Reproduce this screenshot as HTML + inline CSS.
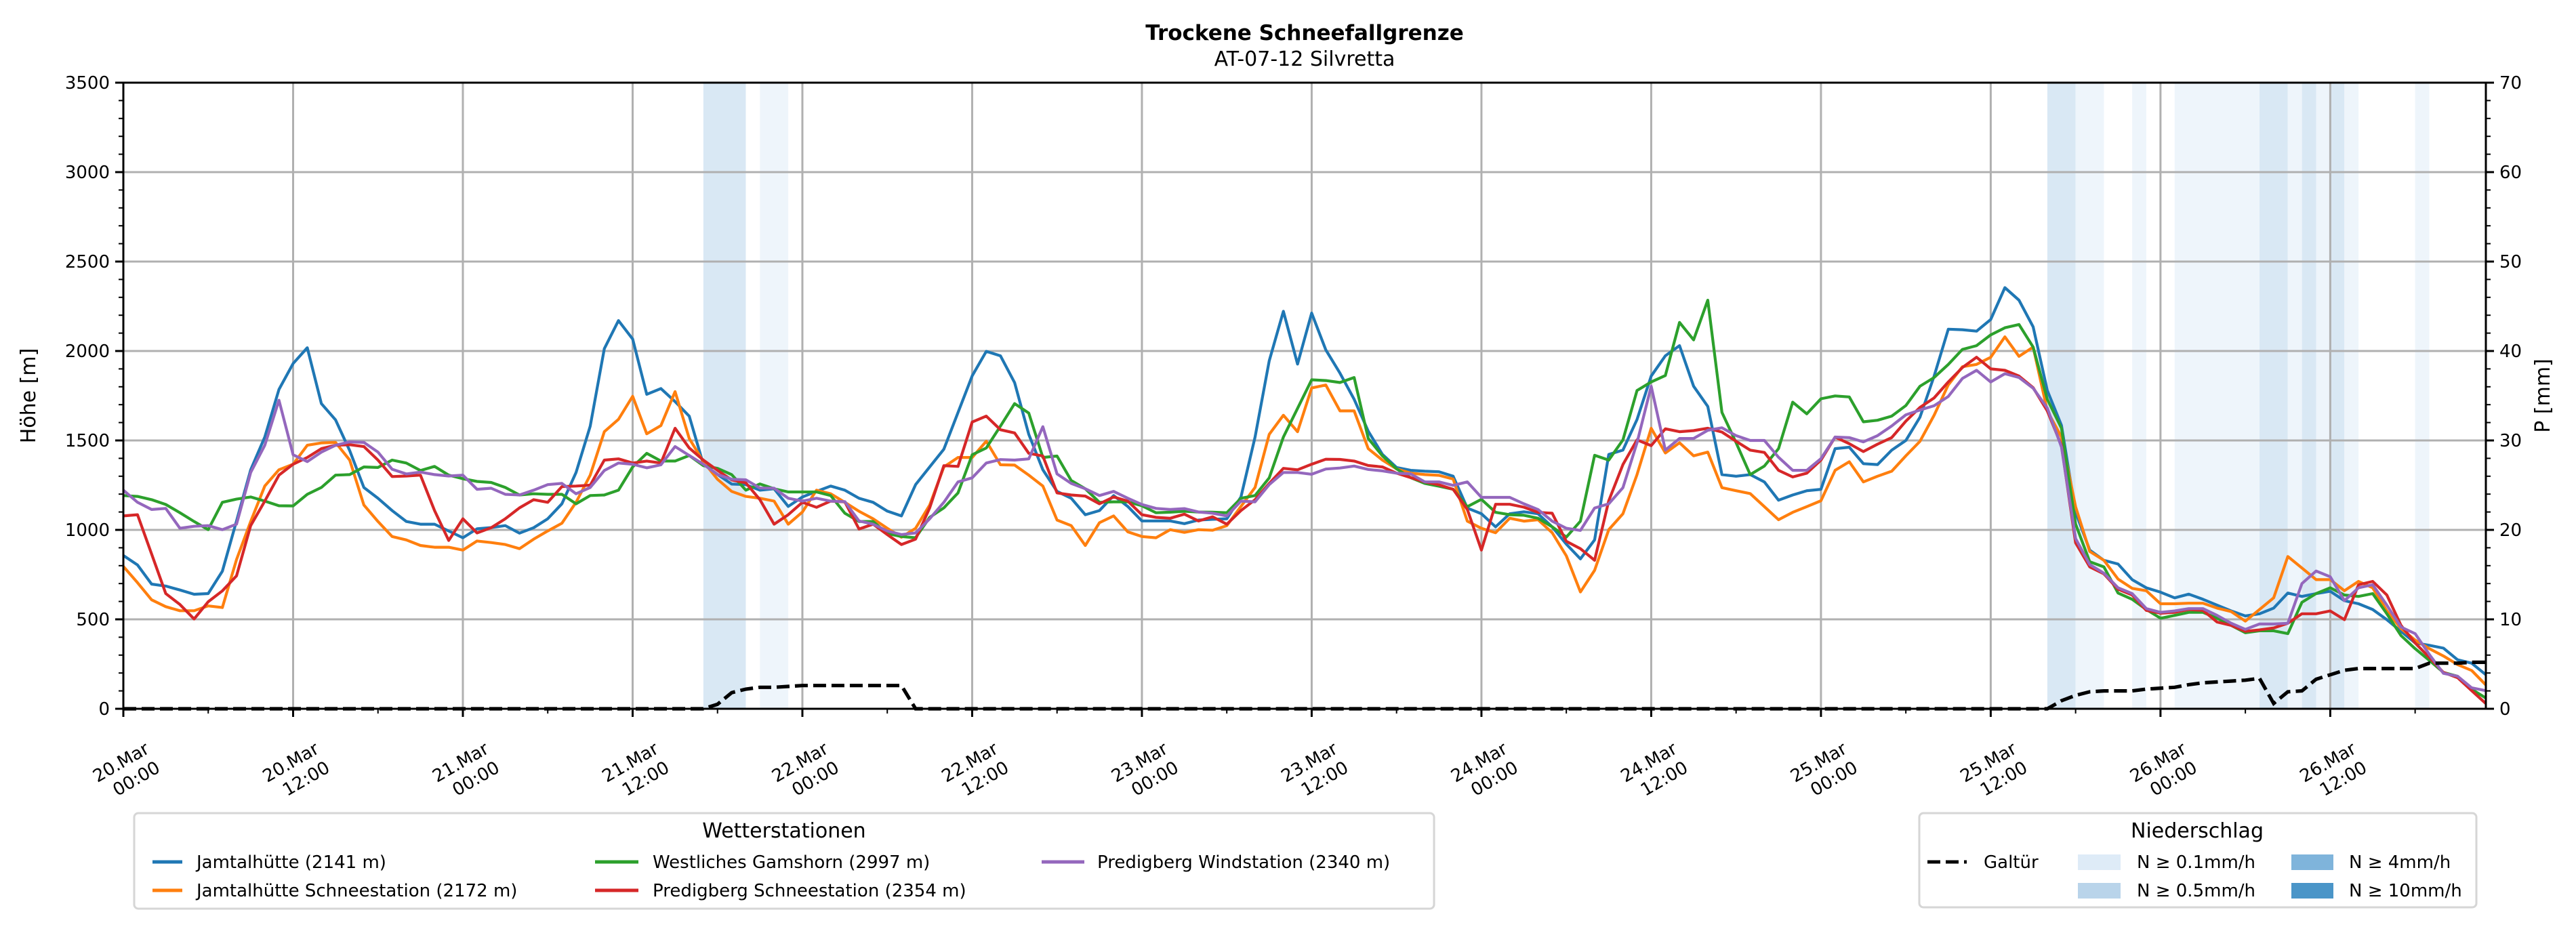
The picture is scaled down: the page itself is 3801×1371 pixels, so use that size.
<!DOCTYPE html>
<html><head><meta charset="utf-8"><style>
html,body{margin:0;padding:0;background:#fff;}
svg{display:block;font-family:"DejaVu Sans","Liberation Sans",sans-serif;}
</style></head><body>
<svg id="chart" width="3801" height="1371" viewBox="0 0 3801 1371" xmlns="http://www.w3.org/2000/svg">
<rect width="3801" height="1371" fill="#fff"/>
<text x="1925" y="59" text-anchor="middle" font-size="31" font-weight="bold">Trockene Schneefallgrenze</text>
<text x="1925" y="97" text-anchor="middle" font-size="30">AT-07-12 Silvretta</text>
<g id="bands"></g>
<g id="grid"></g>
<g id="series"></g>
<g id="axes"></g>
<text transform="translate(52,584) rotate(-90)" text-anchor="middle" font-size="30">Höhe [m]</text>
<text transform="translate(3762,584) rotate(-90)" text-anchor="middle" font-size="30">P [mm]</text>
<g>
<rect x="198" y="1200" width="1918" height="141" rx="6" fill="#fff" stroke="#d6d6d6" stroke-width="3"/>
<text x="1157" y="1236" text-anchor="middle" font-size="30">Wetterstationen</text>
<g><line x1="225" y1="1272" x2="269" y2="1272" stroke="#1f77b4" stroke-width="5"/><text x="290" y="1281" font-size="26">Jamtalhütte (2141 m)</text></g>
<g><line x1="225" y1="1314" x2="269" y2="1314" stroke="#ff7f0e" stroke-width="5"/><text x="290" y="1323" font-size="26">Jamtalhütte Schneestation (2172 m)</text></g>
<g><line x1="878" y1="1272" x2="942" y2="1272" stroke="#2ca02c" stroke-width="5"/><text x="963" y="1281" font-size="26">Westliches Gamshorn (2997 m)</text></g>
<g><line x1="878" y1="1314" x2="942" y2="1314" stroke="#d62728" stroke-width="5"/><text x="963" y="1323" font-size="26">Predigberg Schneestation (2354 m)</text></g>
<g><line x1="1537" y1="1272" x2="1600" y2="1272" stroke="#9467bd" stroke-width="5"/><text x="1619" y="1281" font-size="26">Predigberg Windstation (2340 m)</text></g>
</g>
<g>
<rect x="2832" y="1200" width="822" height="139" rx="6" fill="#fff" stroke="#d6d6d6" stroke-width="3"/>
<text x="3242" y="1236" text-anchor="middle" font-size="30">Niederschlag</text>
<g><line x1="2844" y1="1272" x2="2902" y2="1272" stroke="#000" stroke-width="5" stroke-dasharray="19,8"/><text x="2927" y="1281" font-size="26">Galtür</text></g>
<g><rect x="3066" y="1261" width="63" height="23" fill="#deebf7"/><text x="3153" y="1281" font-size="26">N ≥ 0.1mm/h</text></g>
<g><rect x="3066" y="1303" width="63" height="23" fill="#b9d4ea"/><text x="3153" y="1323" font-size="26">N ≥ 0.5mm/h</text></g>
<g><rect x="3381" y="1261" width="62" height="23" fill="#7fb4db"/><text x="3466" y="1281" font-size="26">N ≥ 4mm/h</text></g>
<g><rect x="3381" y="1303" width="62" height="23" fill="#4a95c8"/><text x="3466" y="1323" font-size="26">N ≥ 10mm/h</text></g>
</g>
</svg>
<script>
const jamtal = [857,804,697,686,664,640,644,769,1050,1336,1519,1785,1930,2018,1706,1615,1443,1237,1177,1108,1047,1032,1032,994,956,1006,1013,1024,982,1012,1062,1146,1321,1580,2013,2170,2067,1758,1790,1717,1636,1367,1310,1256,1253,1222,1230,1131,1184,1215,1245,1222,1177,1154,1105,1078,1253,1352,1451,1656,1861,1998,1973,1823,1534,1336,1215,1177,1085,1108,1192,1131,1050,1050,1050,1035,1055,1059,1062,1184,1519,1945,2222,1927,2212,2006,1876,1730,1552,1422,1349,1333,1328,1325,1300,1122,1090,1017,1090,1101,1090,1017,920,838,944,1422,1446,1617,1860,1973,2030,1803,1690,1309,1300,1309,1268,1166,1195,1219,1227,1454,1462,1370,1365,1446,1500,1630,1860,2122,2119,2111,2176,2354,2284,2135,1779,1584,1098,887,830,809,722,676,652,620,641,612,579,547,519,531,563,647,628,644,657,604,587,555,498,433,368,355,339,274,255,190];
const jamtalSchnee = [796,705,609,571,548,548,575,566,834,1047,1245,1336,1367,1473,1486,1489,1390,1139,1047,963,944,913,903,903,887,938,929,918,895,948,994,1037,1154,1306,1549,1618,1747,1537,1583,1773,1511,1382,1283,1215,1187,1177,1161,1032,1100,1222,1202,1154,1104,1062,1009,959,1009,1139,1352,1405,1405,1496,1364,1362,1306,1245,1055,1024,913,1040,1078,989,963,956,1001,986,1001,998,1024,1131,1237,1534,1641,1549,1793,1810,1665,1665,1454,1390,1341,1317,1309,1305,1284,1049,1009,984,1065,1049,1057,984,855,653,774,1001,1090,1309,1568,1430,1487,1414,1435,1236,1219,1203,1130,1057,1098,1130,1163,1333,1381,1268,1300,1328,1414,1495,1641,1811,1912,1925,1965,2079,1970,2022,1665,1519,1130,879,830,725,673,660,587,587,590,590,563,543,490,555,620,851,787,722,722,660,712,676,547,449,384,336,295,247,214,133];
const gamshorn = [1192,1187,1169,1142,1096,1047,1001,1154,1172,1184,1161,1135,1134,1199,1237,1306,1309,1352,1349,1390,1374,1332,1355,1306,1286,1271,1265,1237,1195,1202,1199,1199,1146,1192,1195,1222,1352,1428,1385,1385,1416,1359,1344,1309,1222,1257,1230,1212,1212,1212,1192,1093,1047,1047,979,963,956,1070,1123,1207,1420,1458,1580,1706,1653,1405,1413,1276,1230,1154,1157,1157,1135,1096,1099,1104,1100,1099,1096,1177,1192,1291,1519,1679,1839,1835,1824,1852,1511,1414,1341,1292,1260,1244,1227,1130,1171,1098,1085,1082,1065,1017,960,1049,1417,1390,1503,1779,1827,1863,2160,2062,2284,1657,1487,1309,1357,1454,1714,1649,1733,1749,1743,1604,1613,1636,1695,1803,1852,1925,2009,2030,2090,2130,2148,2022,1730,1568,1033,822,793,647,612,555,506,522,539,539,506,466,425,436,436,420,595,644,676,636,628,644,531,409,336,271,203,182,109,60];
const predigSchnee = [1078,1085,865,644,583,502,598,659,743,1024,1161,1306,1367,1405,1454,1473,1476,1466,1390,1298,1301,1306,1108,941,1062,983,1012,1062,1123,1169,1154,1242,1245,1250,1390,1397,1374,1385,1374,1568,1458,1390,1333,1279,1263,1169,1032,1085,1154,1126,1161,1157,1005,1032,974,918,948,1123,1359,1355,1603,1636,1560,1542,1428,1413,1207,1195,1189,1146,1184,1161,1085,1070,1065,1088,1050,1073,1032,1108,1169,1260,1344,1336,1367,1395,1394,1385,1360,1352,1317,1292,1268,1252,1227,1114,887,1143,1143,1127,1098,1093,936,895,830,1163,1365,1503,1471,1565,1549,1555,1568,1547,1495,1446,1433,1333,1296,1317,1390,1519,1482,1438,1479,1516,1608,1685,1738,1827,1908,1965,1900,1892,1860,1795,1665,1471,928,793,754,668,636,550,534,539,555,550,485,466,433,441,452,478,531,531,547,498,693,712,636,466,368,287,203,174,101,29];
const predigWind = [1222,1154,1114,1120,1009,1020,1024,1001,1032,1321,1473,1725,1420,1382,1435,1473,1492,1489,1435,1339,1313,1323,1309,1301,1306,1227,1233,1199,1195,1222,1253,1260,1202,1237,1332,1374,1367,1347,1364,1466,1416,1367,1310,1283,1280,1234,1233,1177,1161,1177,1161,1158,1050,1032,994,974,983,1062,1154,1268,1291,1374,1393,1390,1397,1577,1313,1260,1230,1192,1215,1177,1142,1120,1114,1119,1100,1093,1078,1161,1157,1253,1321,1321,1311,1340,1346,1357,1338,1330,1317,1313,1268,1268,1249,1268,1182,1182,1182,1146,1114,1049,1009,997,1122,1146,1236,1487,1803,1446,1511,1511,1557,1571,1527,1500,1500,1406,1333,1333,1398,1519,1516,1492,1527,1581,1643,1670,1694,1746,1847,1892,1827,1873,1852,1792,1681,1463,952,806,758,676,644,560,539,547,560,560,522,478,444,474,474,478,700,770,738,604,676,693,579,457,420,304,198,182,117,101];
const galtuer = [
0,0,0,0,0,0,0,0,0,0,
0,0,0,0,0,0,0,0,0,0,
0,0,0,0,0,0,0,0,0,0,
0,0,0,0,0,0,0,0,0,0,
0,0,0.5,1.8,2.2,2.4,2.4,2.5,2.6,2.6,
2.6,2.6,2.6,2.6,2.6,2.6,0,0,0,0,
0,0,0,0,0,0,0,0,0,0,
0,0,0,0,0,0,0,0,0,0,
0,0,0,0,0,0,0,0,0,0,
0,0,0,0,0,0,0,0,0,0,
0,0,0,0,0,0,0,0,0,0,
0,0,0,0,0,0,0,0,0,0,
0,0,0,0,0,0,0,0,0,0,
0,0,0,0,0,0,0,0.9,1.5,1.9,
2.0,2.0,2.0,2.2,2.3,2.4,2.7,2.9,3.0,3.1,
3.2,3.4,0.6,1.9,2.0,3.3,3.8,4.3,4.5,4.5,
4.5,4.5,4.5,5.1,5.1,5.1,5.2,5.2];
const bandStart = [41,45,136,138,142,145,151,153,154,155,156,157,162];
const bandEnd   = [44,47,138,140,143,151,153,154,155,156,157,158,163];
const bandLevel = [1,0,1,0,0,0,1,0,1,0,1,0,0];
const xTickDays = ["20.Mar","20.Mar","21.Mar","21.Mar","22.Mar","22.Mar","23.Mar","23.Mar","24.Mar","24.Mar","25.Mar","25.Mar","26.Mar","26.Mar"];
const xTickTimes = ["00:00","12:00","00:00","12:00","00:00","12:00","00:00","12:00","00:00","12:00","00:00","12:00","00:00","12:00"];
const yTicks = [0,500,1000,1500,2000,2500,3000,3500];
const y2Ticks = [0,10,20,30,40,50,60,70];

const NS="http://www.w3.org/2000/svg";
const X0=182,X1=3668,YT=122,YB=1046,HMAX=167;
function xs(h){return X0+h*(X1-X0)/HMAX;}
function yl(v){return YB-v/3500*(YB-YT);}
function yr(p){return YB-p/70*(YB-YT);}
function mk(tag,attrs,parent){const e=document.createElementNS(NS,tag);for(const k in attrs)e.setAttribute(k,attrs[k]);parent.appendChild(e);return e;}

const gB=document.getElementById('bands');
const bandColors=["#eef5fb","#d9e8f4"];
for(let i=0;i<bandStart.length;i++){
  const r=mk('rect',{x:xs(bandStart[i]),y:YT,width:xs(bandEnd[i])-xs(bandStart[i]),height:YB-YT,fill:bandColors[bandLevel[i]]},gB);
  
  
}
const gG=document.getElementById('grid');
for(let i=0;i<xTickDays.length;i++){
  const l=mk('line',{x1:xs(i*12),x2:xs(i*12),y1:YT,y2:YB,stroke:"#b0b0b0","stroke-width":3},gG);
  
  
}
yTicks.forEach(v=>{
  const l=mk('line',{x1:X0,x2:X1,y1:yl(v),y2:yl(v),stroke:"#b0b0b0","stroke-width":3},gG);
  
  
});
const gS=document.getElementById('series');
function path(arr,f){return arr.map((v,i)=>(i?'L':'M')+xs(i).toFixed(1)+','+f(v).toFixed(1)).join('');}
const seriesList=[[jamtal,"#1f77b4","series-jamtalhuette"],[jamtalSchnee,"#ff7f0e","series-jamtalhuette-schneestation"],[gamshorn,"#2ca02c","series-westliches-gamshorn"],[predigSchnee,"#d62728","series-predigberg-schneestation"],[predigWind,"#9467bd","series-predigberg-windstation"]];
seriesList.forEach(s=>{
  const p=mk('path',{d:path(s[0],yl),fill:"none",stroke:s[1],"stroke-width":4.2,"stroke-linejoin":"round"},gS);
  
  
});
const gp=mk('path',{d:path(galtuer,yr),fill:"none",stroke:"#000","stroke-width":5.2,"stroke-dasharray":"19,8"},gS);



const gA=document.getElementById('axes');
mk('rect',{x:X0,y:YT,width:X1-X0,height:YB-YT,fill:"none",stroke:"#000","stroke-width":3},gA);
for(let v=0;v<=3500;v+=100){
  const major=v%500===0;
  mk('line',{x1:X0,x2:X0-(major?12:7),y1:yl(v),y2:yl(v),stroke:"#000","stroke-width":major?3:2},gA);
}
yTicks.forEach(v=>{
  const t=mk('text',{x:X0-20,y:yl(v)+9,"text-anchor":"end","font-size":26},gA);
  t.textContent=v;
  
  
});
for(let p=0;p<=70;p+=2){
  const major=p%10===0;
  mk('line',{x1:X1,x2:X1+(major?12:7),y1:yr(p),y2:yr(p),stroke:"#000","stroke-width":major?3:2},gA);
}
y2Ticks.forEach(p=>{
  const t=mk('text',{x:X1+20,y:yr(p)+9,"text-anchor":"start","font-size":26},gA);
  t.textContent=p;
  
  
});
for(let h=0;h<=HMAX;h+=6){
  const major=h%12===0;
  mk('line',{x1:xs(h),x2:xs(h),y1:YB,y2:YB+(major?12:7),stroke:"#000","stroke-width":major?3:2},gA);
}
for(let i=0;i<xTickDays.length;i++){
  const X=xs(i*12);
  const t1=mk('text',{transform:`translate(${X+40},1110) rotate(-30)`,"text-anchor":"end","font-size":26},gA);
  t1.textContent=xTickDays[i];
  
  
  const t2=mk('text',{transform:`translate(${X+56},1138) rotate(-30)`,"text-anchor":"end","font-size":26},gA);
  t2.textContent=xTickTimes[i];
  
  
}
</script>
</body></html>
